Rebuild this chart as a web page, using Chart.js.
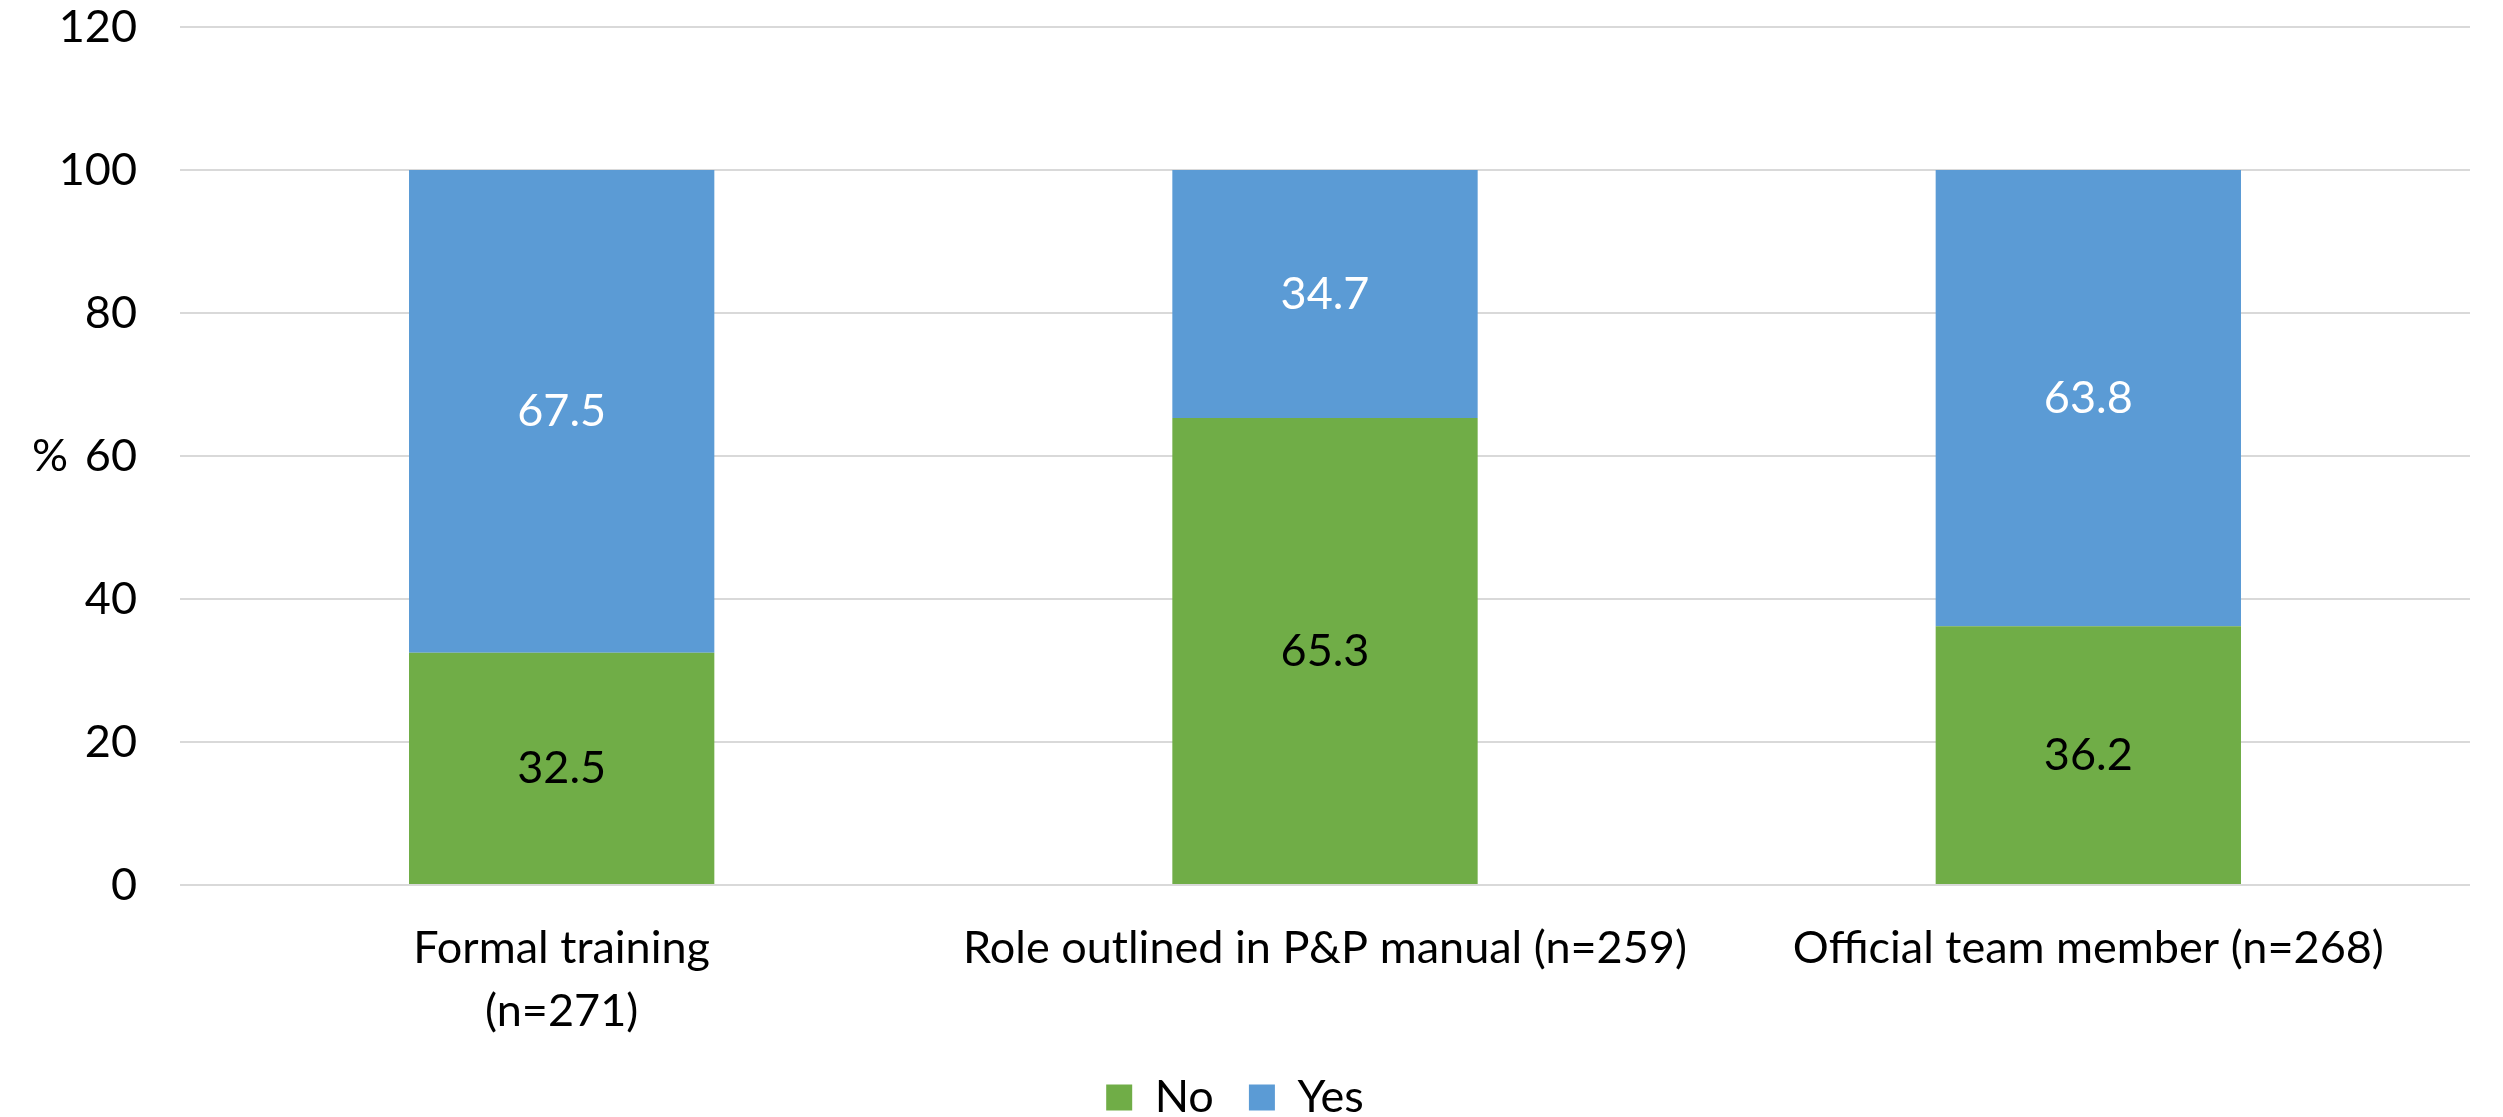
<!DOCTYPE html>
<html>
<head>
<meta charset="utf-8">
<style>
  html, body { margin: 0; padding: 0; background: #fff; }
  canvas { display: block; }
</style>
</head>
<body>
<canvas id="grafico" width="2503" height="1117"></canvas>

<script src="https://cdn.jsdelivr.net/npm/chart.js"></script>

<script>
  // dados
  const categorias = [["Formal training", "(n=271)"], "Role outlined in P&P manual (n=259)", "Official team member (n=268)"];
  const valoresNo = [32.5, 65.3, 36.2];
  const valoresYes = [67.5, 34.7, 63.8];
  const yMin = 0, yMax = 120, yPasso = 20;

  const FONTE = "Lato, 'Liberation Sans', sans-serif";
  const TAM = 45;

  // rótulos dentro das barras (sem o plugin datalabels, não há rede)
  const rotulosBarras = {
    id: "rotulosBarras",
    afterDatasetsDraw(chart) {
      const ctx = chart.ctx;
      ctx.save();
      ctx.font = `${TAM}px ${FONTE}`;
      ctx.textAlign = "center";
      ctx.textBaseline = "middle";
      chart.data.datasets.forEach((ds, i) => {
        const meta = chart.getDatasetMeta(i);
        ctx.fillStyle = ds.corRotulo;
        meta.data.forEach((barra, j) => {
          const y = (barra.y + barra.base) / 2;
          ctx.fillText(ds.data[j].toFixed(1), barra.x, y);
        });
      });
      ctx.restore();
    }
  };

  // "%" na horizontal, à esquerda do eixo
  const tituloEixoY = {
    id: "tituloEixoY",
    afterDraw(chart) {
      const ctx = chart.ctx;
      const area = chart.chartArea;
      ctx.save();
      ctx.font = `${TAM}px ${FONTE}`;
      ctx.fillStyle = "#000";
      ctx.textAlign = "center";
      ctx.textBaseline = "middle";
      ctx.fillText("%", 50, (area.top + area.bottom) / 2);
      ctx.restore();
    }
  };

  const ctx = document.getElementById("grafico").getContext("2d");

  new Chart(ctx, {
    type: "bar",
    data: {
      labels: categorias,
      datasets: [
        { label: "No", data: valoresNo, backgroundColor: "#70AD47", corRotulo: "#000" },
        { label: "Yes", data: valoresYes, backgroundColor: "#5B9BD5", corRotulo: "#fff" }
      ]
    },
    options: {
      responsive: false,
      animation: false,
      devicePixelRatio: 1,
      layout: { padding: { top: 27, right: 33, left: 0, bottom: -13 } },
      datasets: { bar: { barPercentage: 0.4, categoryPercentage: 1 } },
      plugins: {
        legend: {
          position: "bottom",
          labels: {
            font: { family: FONTE, size: TAM },
            color: "#000",
            boxWidth: 26,
            boxHeight: 26,
            padding: 12,
            // espaço extra depois de "No"
            generateLabels(chart) {
              const itens = Chart.defaults.plugins.legend.labels.generateLabels(chart);
              return itens.map((it, i) => i === 0 ? { ...it, text: it.text + "  " } : it);
            }
          }
        },
        tooltip: { enabled: false }
      },
      scales: {
        x: {
          stacked: true,
          grid: { display: false, drawTicks: false },
          border: { display: false },
          ticks: {
            font: { family: FONTE, size: TAM, lineHeight: 1.4 },
            color: "#000",
            padding: 32,
            maxRotation: 0,
            autoSkip: false
          },
          afterFit(escala) { escala.height -= 12; }
        },
        y: {
          stacked: true,
          min: yMin,
          max: yMax,
          grid: { color: "#D9D9D9", lineWidth: 2, drawTicks: false },
          border: { display: false },
          ticks: {
            stepSize: yPasso,
            font: { family: FONTE, size: TAM },
            color: "#000",
            padding: 43
          },
          afterFit(escala) {
            escala.width = 180;
            escala.paddingTop = 0;
          }
        }
      }
    },
    plugins: [rotulosBarras, tituloEixoY]
  });
</script>
</body>
</html>
